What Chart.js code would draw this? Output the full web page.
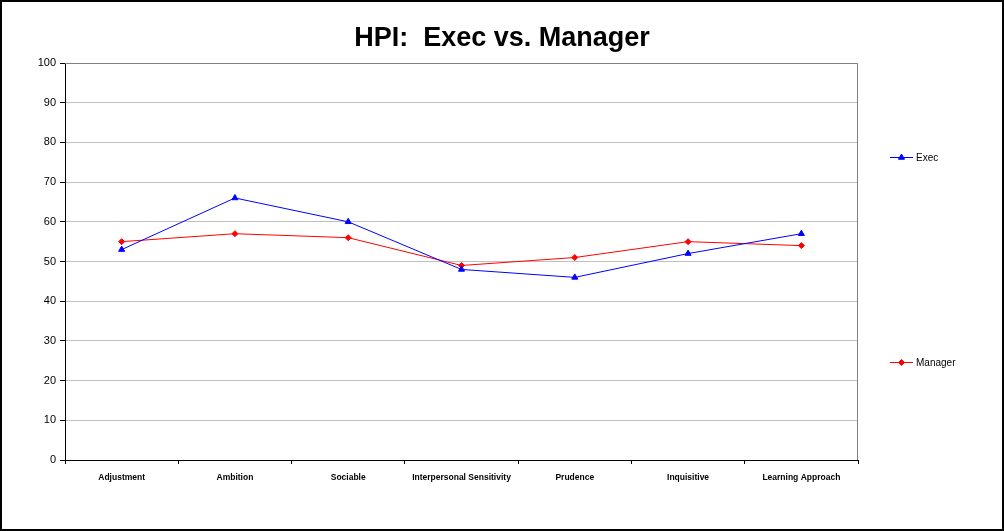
<!doctype html>
<html>
<head>
    <title>HPI: Exec vs. Manager</title>
    <script src="https://cdn.jsdelivr.net/npm/chart.js@4/dist/chart.umd.min.js"></script>
    <style>
        body { margin: 0; background: #fff; }
        #frame {
            position: absolute; left: 0; top: 0;
            width: 1004px; height: 531px;
            box-sizing: border-box;
            border: 2px solid #000;
        }
        #chart { display: block; }
    </style>
</head>
<body>
    <div id="frame">
        <canvas id="chart" width="1000" height="527"></canvas>
    </div>
    <script>
        // categories and scores
        var categories = ['Adjustment', 'Ambition', 'Sociable', 'Interpersonal Sensitivity',
            'Prudence', 'Inquisitive', 'Learning Approach'];
        var execScores = [53, 66, 60, 48, 46, 52, 57];
        var managerScores = [55, 57, 56, 49, 51, 55, 54];
        var yTicks = [0, 10, 20, 30, 40, 50, 60, 70, 80, 90, 100];

        var font = "Arial, 'Liberation Sans', Helvetica, sans-serif";

        // gray frame around the plot area
        var plotBorder = {
            id: 'plotBorder',
            beforeDatasetsDraw: function(chart) {
                var a = chart.chartArea, ctx = chart.ctx;
                ctx.save();
                ctx.strokeStyle = '#808080';
                ctx.lineWidth = 1;
                ctx.beginPath();
                ctx.moveTo(a.left, a.top + 0.5);
                ctx.lineTo(a.right - 0.5, a.top + 0.5);
                ctx.lineTo(a.right - 0.5, a.bottom);
                ctx.stroke();
                ctx.restore();
            }
        };

        // the legend entries sit far apart on the right side
        var sideLegend = {
            id: 'sideLegend',
            afterDraw: function(chart) {
                var ctx = chart.ctx;
                var x = chart.chartArea.right + 32;
                var rows = [155, 360];
                chart.data.datasets.forEach(function(ds, i) {
                    var y = rows[i];
                    ctx.save();
                    ctx.strokeStyle = ds.borderColor;
                    ctx.lineWidth = 1;
                    ctx.beginPath();
                    ctx.moveTo(x, y + 0.5);
                    ctx.lineTo(x + 23, y + 0.5);
                    ctx.stroke();
                    ctx.fillStyle = ds.pointBackgroundColor;
                    ctx.strokeStyle = ds.pointBorderColor;
                    Chart.helpers.drawPoint(ctx, {
                        pointStyle: ds.pointStyle,
                        radius: ds.pointRadius,
                        borderWidth: 1
                    }, x + 11.5, y + 0.5);
                    ctx.fillStyle = '#000';
                    ctx.font = '10px ' + font;
                    ctx.textBaseline = 'middle';
                    ctx.fillText(ds.label, x + 26, y + 1);
                    ctx.restore();
                });
            }
        };

        new Chart(document.getElementById('chart'), {
            type: 'line',
            data: {
                labels: categories,
                datasets: [{
                    label: 'Exec',
                    data: execScores,
                    borderColor: '#0000ff',
                    backgroundColor: '#0000ff',
                    pointBackgroundColor: '#0000ff',
                    pointBorderColor: '#0000ff',
                    pointStyle: 'triangle',
                    pointRadius: 3.5,
                    borderWidth: 1,
                    tension: 0
                }, {
                    label: 'Manager',
                    data: managerScores,
                    borderColor: '#ff0000',
                    backgroundColor: '#ff0000',
                    pointBackgroundColor: '#ff0000',
                    pointBorderColor: '#ff0000',
                    pointStyle: 'rectRot',
                    pointRadius: 3,
                    borderWidth: 1,
                    tension: 0
                }]
            },
            options: {
                responsive: false,
                animation: false,
                layout: { padding: 0 },
                plugins: {
                    legend: { display: false },
                    tooltip: { enabled: false },
                    title: {
                        display: true,
                        text: 'HPI:  Exec vs. Manager',
                        color: '#000',
                        font: { family: font, size: 27, weight: 'bold', lineHeight: 1.2 },
                        padding: { top: 20, bottom: 8.6 }
                    }
                },
                scales: {
                    x: {
                        offset: true,
                        grid: {
                            offset: true,
                            drawOnChartArea: false,
                            drawTicks: true,
                            tickLength: 4,
                            tickColor: '#000'
                        },
                        border: { color: '#000', width: 1 },
                        ticks: {
                            color: '#000',
                            maxRotation: 0,
                            autoSkip: false,
                            padding: 9,
                            font: { family: font, size: 8.5, weight: 'bold' }
                        },
                        afterFit: function(scale) { scale.height = 69; }
                    },
                    y: {
                        min: 0,
                        max: 100,
                        afterBuildTicks: function(scale) {
                            scale.ticks = yTicks.map(function(v) { return { value: v }; });
                        },
                        grid: {
                            color: '#c0c0c0',
                            tickColor: '#000',
                            tickLength: 5,
                            drawTicks: true
                        },
                        border: { color: '#000', width: 1 },
                        ticks: {
                            color: '#000',
                            padding: 4,
                            font: { family: font, size: 11 }
                        },
                        afterFit: function(scale) { scale.width = 63; }
                    },
                    // empty scale that only reserves the legend column on the right
                    side: {
                        position: 'right',
                        grid: { display: false },
                        border: { display: false },
                        ticks: { display: false },
                        afterFit: function(scale) { scale.width = 144; }
                    }
                }
            },
            plugins: [plotBorder, sideLegend]
        });
    </script>
</body>
</html>
